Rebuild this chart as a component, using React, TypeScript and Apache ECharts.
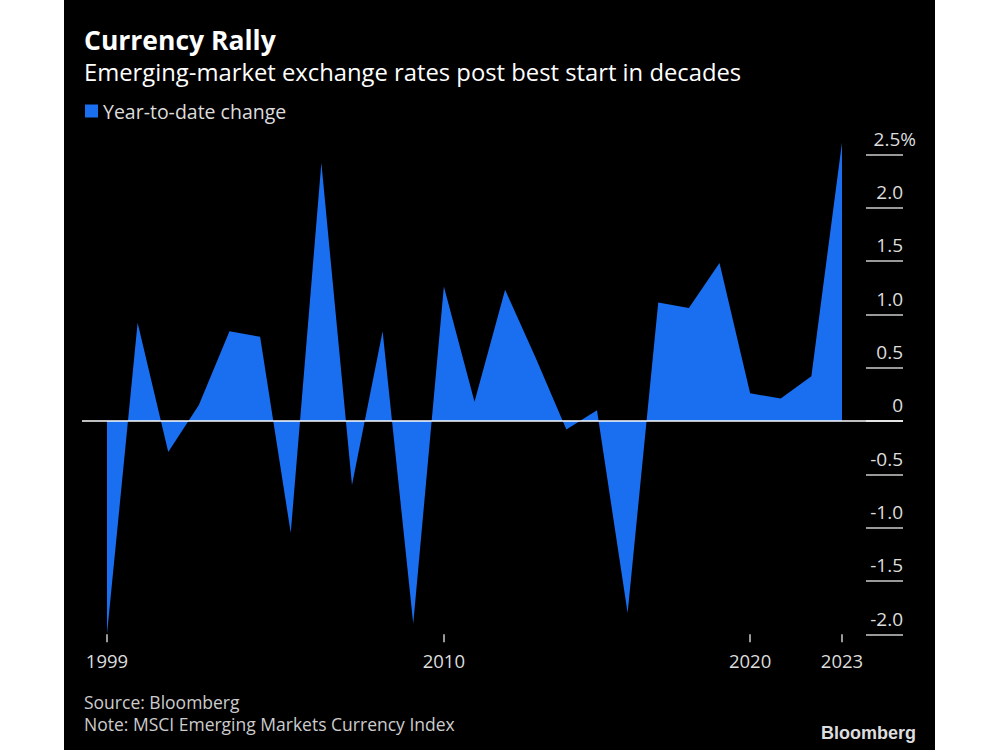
import React, { useEffect, useRef } from "react";
import * as echarts from "echarts";

const years = [1999, 2000, 2001, 2002, 2003, 2004, 2005, 2006, 2007, 2008, 2009, 2010, 2011, 2012, 2013, 2014, 2015, 2016, 2017, 2018, 2019, 2020, 2021, 2022, 2023];
const ytdChange = [-2.0, 0.92, -0.29, 0.15, 0.84, 0.79, -1.05, 2.42, -0.6, 0.84, -1.9, 1.26, 0.18, 1.23, 0.59, -0.08, 0.1, -1.8, 1.11, 1.06, 1.48, 0.26, 0.21, 0.42, 2.61];
const xLabelYears = [1999, 2010, 2020, 2023];
const seriesName = "Year-to-date change";
const titleText = "Currency Rally";
const subtitleText = "Emerging-market exchange rates post best start in decades";
const sourceText = "Source: Bloomberg";
const noteText = "Note: MSCI Emerging Markets Currency Index";
const FONT = "'Open Sans', 'Noto Sans', sans-serif";
const BLUE = "#1a6ff0";

export default function App() {
  const ref = useRef<HTMLDivElement>(null);
  useEffect(() => {
    if (!ref.current) return;
    const chart = echarts.init(ref.current, undefined, { renderer: "svg" });
    const data = years.map((y, i) => [y, ytdChange[i]]);
    chart.setOption({
      animation: false,
      backgroundColor: "#000",
      textStyle: { fontFamily: FONT },
      title: [
        { text: titleText, left: 20, top: 27, padding: 0, textStyle: { color: "#fff", fontSize: 26.5, lineHeight: 25, fontWeight: "bold", fontFamily: FONT } },
        { text: subtitleText, left: 20, top: 61, padding: 0, textStyle: { color: "#fff", fontSize: 23.8, lineHeight: 22, fontWeight: "normal", fontFamily: FONT } },
        { text: sourceText, left: 20, top: 693, padding: 0, textStyle: { color: "#ccc", fontSize: 17.5, lineHeight: 18, fontWeight: "normal", fontFamily: FONT } },
        { text: noteText, left: 20, top: 715, padding: 0, textStyle: { color: "#ccc", fontSize: 17.5, lineHeight: 18, fontWeight: "normal", fontFamily: FONT } },
        { text: "Bloomberg", right: 19, top: 724, padding: 0, textStyle: { color: "#ddd", fontSize: 18, lineHeight: 18, fontWeight: "bold", fontFamily: "'Liberation Sans', Arial, sans-serif" } },
      ],
      legend: {
        left: 16,
        top: 96,
        icon: "rect",
        itemWidth: 13,
        itemHeight: 13,
        itemGap: 10,
        textStyle: { color: "#ddd", fontSize: 19.5, fontFamily: FONT },
        data: [seriesName],
      },
      grid: { left: 18, right: 32, top: 154.3, bottom: 115.7, containLabel: false },
      xAxis: {
        type: "value",
        min: 1998.184,
        max: 2024.992,
        axisLine: { show: false, onZero: false },
        splitLine: { show: false },
        axisTick: { show: true, length: 8, customValues: xLabelYears, lineStyle: { color: "#ccc", width: 1.5 } },
        axisLabel: { show: true, customValues: xLabelYears, color: "#ddd", fontSize: 18.5, margin: 17, formatter: (v: number) => String(v) },
      },
      yAxis: {
        type: "value",
        position: "right",
        min: -2,
        max: 2.5,
        interval: 0.5,
        axisLine: { show: false },
        splitLine: { show: false },
        axisTick: { show: true, inside: true, length: 37, lineStyle: { color: "#ccc", width: 1.5 } },
        axisLabel: {
          inside: true,
          margin: 0,
          align: "right",
          verticalAlign: "bottom",
          padding: [0, 0, 6, 0],
          color: "#ddd",
          fontSize: 19,
          formatter: (v: number) => (v === 2.5 ? "{n|2.5%}" : v === 0 ? "0" : v.toFixed(1)),
          rich: {
            n: { color: "#ddd", fontSize: 19, fontFamily: FONT, padding: [0, -13, 0, 0] },
          },
        },
      },
      series: [
        {
          name: seriesName,
          type: "line",
          data,
          clip: false,
          showSymbol: false,
          symbol: "none",
          itemStyle: { color: BLUE },
          lineStyle: { width: 0, opacity: 0 },
          areaStyle: { color: BLUE, opacity: 1 },
          markLine: {
            silent: true,
            symbol: "none",
            label: { show: false },
            lineStyle: { color: "#fff", width: 1.5, type: "solid" },
            data: [{ yAxis: 0 }],
          },
        },
      ],
    });
    return () => chart.dispose();
  }, []);
  return (
    <div style={{ position: "fixed", left: 0, top: 0, width: 1000, height: 750, background: "#fff" }}>
      <div ref={ref} style={{ position: "absolute", left: 64, top: 0, width: 871, height: 750 }} />
    </div>
  );
}
